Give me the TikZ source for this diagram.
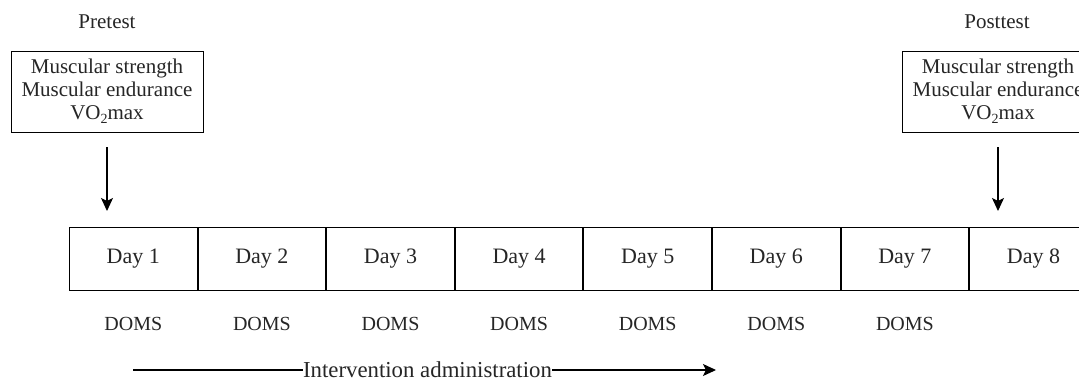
\documentclass[tikz,border=0pt]{standalone}
\usepackage{fontspec}
\setmainfont{Liberation Serif}
\usetikzlibrary{arrows.meta,positioning}
\begin{document}
\begin{tikzpicture}[x=1pt,y=-1pt,
  every node/.style={font=\fontsize{21}{23}\selectfont, text=black!85},
  testbox/.style={draw, line width=1pt, minimum width=192pt, minimum height=81pt, align=center, inner sep=0pt},
  daycell/.style={draw, line width=1pt, minimum width=127.6pt, minimum height=63pt, inner sep=0pt, anchor=west, font=\fontsize{22}{24}\selectfont},
  doms/.style={font=\fontsize{20}{22}\selectfont},
  arr/.style={line width=1.1pt, -{Stealth[length=13pt,width=12pt,inset=3pt]}}]
\clip (0,0) rectangle (1079,381);
\fill[white] (0,0) rectangle (1079,381);
% labels
\node (pre) at (107,22) {Pretest};
\node (post) at (997,22) {Posttest};
% test boxes
\node[testbox] (prebox) at (107,91.5) {Muscular strength\\Muscular endurance\\VO\raisebox{-0.45ex}{\fontsize{14}{14}\selectfont 2}max};
\node[testbox] (postbox) at (998,91.5) {Muscular strength\\Muscular endurance\\VO\raisebox{-0.45ex}{\fontsize{14}{14}\selectfont 2}max};
% day cells
\node[daycell] (d1) at (69,258.5) {Day 1};
\foreach \i [evaluate=\i as \p using int(\i-1)] in {2,...,8} {
  \node[daycell, right=0pt of d\p] (d\i) {Day \i};
}
% DOMS
\foreach \i in {1,...,7} {
  \node[doms] (m\i) at ([yshift=-65pt]d\i.center) {DOMS};
}
% arrows
\coordinate (a1s) at (107,147);
\coordinate (a1e) at (107,211);
\coordinate (a2s) at (998,147);
\coordinate (a2e) at (998,211);
\draw[arr] (a1s) -- (a1e);
\draw[arr] (a2s) -- (a2e);
% intervention
\coordinate (is) at (133,370);
\coordinate (ie) at (716,370);
\draw[arr] (is) -- (ie);
\node[fill=white, inner sep=0.5pt, font=\fontsize{22.8}{24}\selectfont] (iv) at (427.5,370) {Intervention administration};
\end{tikzpicture}
\end{document}
